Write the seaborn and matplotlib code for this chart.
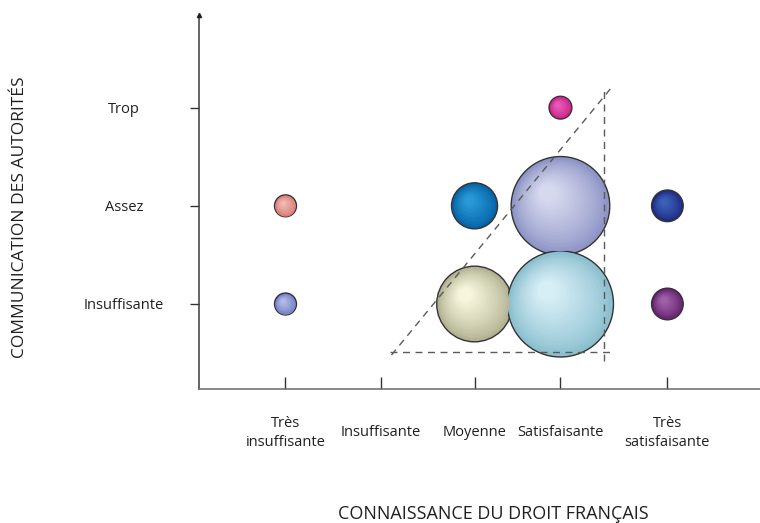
import numpy as np
import pandas as pd
import matplotlib
matplotlib.use("Agg")
import matplotlib.pyplot as plt
import matplotlib.transforms as mtransforms
from matplotlib.colors import to_rgb
import seaborn as sns

# ---------------- data ----------------
x_categories = ["Très\ninsuffisante", "Insuffisante", "Moyenne", "Satisfaisante", "Très\nsatisfaisante"]
y_categories = ["Insuffisante", "Assez", "Trop"]

point_x = ["Très\ninsuffisante", "Très\ninsuffisante", "Moyenne", "Moyenne",
           "Satisfaisante", "Satisfaisante", "Satisfaisante",
           "Très\nsatisfaisante", "Très\nsatisfaisante"]
point_y = ["Assez", "Insuffisante", "Assez", "Insuffisante",
           "Assez", "Insuffisante", "Trop",
           "Assez", "Insuffisante"]
point_value = [1.2, 1.2, 5.3, 14.3, 24.3, 28.1, 1.3, 2.5, 2.5]

# edge / highlight colours of each bubble
edge_colors = ["#d77a72", "#6f7cc4", "#0463a6", "#b3b394", "#8f95c6",
               "#8cc0cf", "#c72088", "#1f2a85", "#66206e"]
light_colors = ["#f2b9b2", "#b3bbe8", "#2a9bd8", "#f9f8de", "#d8dbef",
                "#d8eff7", "#ea5cb8", "#3d63b8", "#a262aa"]

# axis scale: position of each category on the axes
x_scale = [0.0, 1.0, 1.98, 2.88, 4.0]
y_scale = [0.0, 1.0, 2.0]

xlabel = "CONNAISSANCE DU DROIT FRANÇAIS"
ylabel = "COMMUNICATION DES AUTORITÉS"

# ---------------- figure ----------------
sns.set_theme(style="white")
plt.rcParams["font.family"] = ["Open Sans", "DejaVu Sans"]
text_color = "#231f20"

W, H = 760, 523
fig = plt.figure(figsize=(W / 100, H / 100), dpi=100)
ax = fig.add_axes([199 / W, (H - 389) / H, (W - 199) / W, (389 - 15) / H])

xmap = dict(zip(x_categories, x_scale))
ymap = dict(zip(y_categories, y_scale))
df = pd.DataFrame({
    "x": [xmap[v] for v in point_x],
    "y": [ymap[v] for v in point_y],
    "value": point_value,
    "key": [f"b{i}" for i in range(len(point_value))],
})

unit_area = (2 * 10 * 0.72) ** 2   # points^2 per value unit
vmax = max(point_value)
sns.scatterplot(data=df, x="x", y="y", size="value",
                sizes=(0, unit_area * vmax), size_norm=(0, vmax),
                hue="key", palette=dict(zip(df["key"], edge_colors)),
                edgecolor="#333333", linewidth=1.0, legend=False,
                ax=ax, zorder=3)

# radial shading layers
n_layers = 26
for i, row in df.iterrows():
    r_px = 10 * np.sqrt(row["value"])
    c0 = np.array(to_rgb(edge_colors[i]))
    c1 = np.array(to_rgb(light_colors[i]))
    for j in range(1, n_layers):
        t = j / n_layers
        k = 0.96 * (1 - 0.85 * t)
        off = (1 - k) * 0.32 * r_px / 100.0
        tr = ax.transData + mtransforms.ScaledTranslation(-off, off, fig.dpi_scale_trans)
        col = c0 + (c1 - c0) * (t ** 0.8)
        ax.scatter([row["x"]], [row["y"]], s=unit_area * row["value"] * k ** 2,
                   color=col, linewidths=0, transform=tr, zorder=4)

# dashed triangle guide
x_l = x_scale[1] + 0.11
x_r = x_scale[3] + 0.53
x_v = x_scale[3] + 0.457
y_b = y_scale[0] - 0.49
y_t = y_scale[2] + 0.20
dash = dict(color="#5a5a5a", lw=1.0, ls=(0, (5, 4)), zorder=6)
ax.plot([x_l - 0.02, x_r], [y_b, y_b], **dash)
ax.plot([x_v, x_v], [y_b - 0.09, y_t], **dash)
ax.plot([x_l, x_r], [y_b - 0.03, y_t], **dash)

# axes
ax.set_xlim(-0.906, 4.97)
ax.set_ylim(-0.866, 2.944)
for s in ["top", "right"]:
    ax.spines[s].set_visible(False)
ax.spines["left"].set_color("#3a3a3a")
ax.spines["bottom"].set_color("#6a6a6a")
ax.spines["left"].set_linewidth(1.1)
ax.spines["bottom"].set_linewidth(1.1)

ax.set_xticks(x_scale)
ax.set_xticklabels(x_categories, fontsize=10.5, color=text_color,
                   va="center", multialignment="center", linespacing=1.35)
ax.set_yticks(y_scale)
ax.set_yticklabels(y_categories, fontsize=10.5, color=text_color, ha="center")
ax.tick_params(axis="x", direction="in", length=8.6, width=1.0, color="#333333", pad=31.5, bottom=True)
ax.tick_params(axis="y", direction="out", length=6.5, width=1.0, color="#333333", pad=47.5, left=True)

# arrow at top of y axis
ax.plot([0], [1], marker="^", markersize=3, color="#222222", transform=ax.transAxes,
        clip_on=False, zorder=7)

ax.set_xlabel(xlabel, fontsize=13, color=text_color, va="center")
ax.xaxis.set_label_coords((493 - 199) / (W - 199), (389 - 514) / (389 - 15))
ax.set_ylabel(ylabel, fontsize=12.5, color=text_color, va="center")
ax.yaxis.set_label_coords((20 - 199) / (W - 199), (389 - 217) / (389 - 15))

fig.savefig("out.png", dpi=100)
